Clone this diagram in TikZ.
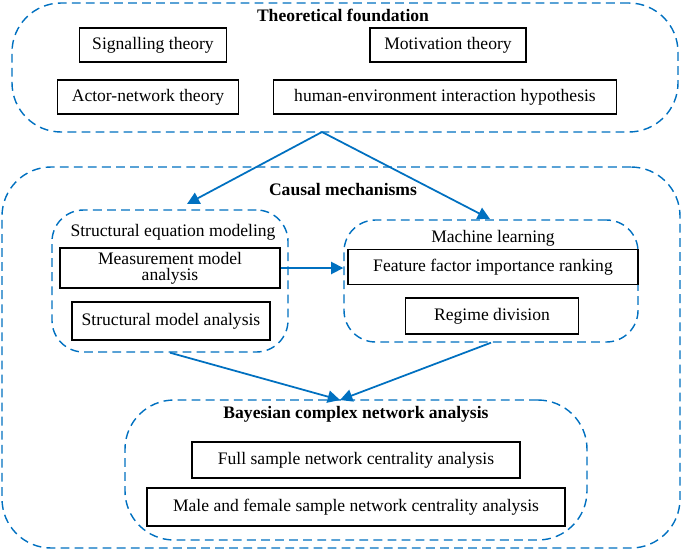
\documentclass[tikz,border=0pt]{standalone}
\usepackage{fontspec}
\setmainfont{Liberation Serif}
\usetikzlibrary{arrows.meta, positioning}
\definecolor{lineblue}{RGB}{0,112,192}
\begin{document}
\begin{tikzpicture}[x=0.02cm, y=-0.02cm,
  item/.style={draw, line width=0.8pt, align=center, inner sep=1pt},
  group/.style={draw=lineblue, dash pattern=on 5pt off 3pt, line width=0.8pt, rounded corners=28pt},
  flow/.style={-{Triangle[length=7pt,width=7pt]}, draw=lineblue, line width=1pt}]
\useasboundingbox (0,0) rectangle (685,551);

% Theoretical foundation
\node[group, minimum width=666*0.02cm, minimum height=129*0.02cm] (theory) at (345,67.5) {};
\node[font=\bfseries] at (343,15) {Theoretical foundation};
\node[item, minimum width=147*0.02cm, minimum height=34*0.02cm] (signal) at (153,45) {Signalling theory};
\node[item, minimum width=156*0.02cm, minimum height=34*0.02cm] (motiv) at (448,45) {Motivation theory};
\node[item, minimum width=181*0.02cm, minimum height=34*0.02cm] (actor) at (148,97) {Actor-network theory};
\node[item, minimum width=343*0.02cm, minimum height=34*0.02cm] (human) at (445,97) {human-environment interaction hypothesis};

% Causal mechanisms
\node[group, minimum width=678*0.02cm, minimum height=381*0.02cm] (causal) at (341,357.5) {};
\node[font=\bfseries] at (343,190) {Causal mechanisms};

% Structural equation modeling
\node[group, rounded corners=18pt, minimum width=236*0.02cm, minimum height=142*0.02cm] (sem) at (170,281) {};
\node at (173,232) {Structural equation modeling};
\node[item, minimum width=220*0.02cm, minimum height=40*0.02cm] (measure) at (170,268) {Measurement model\\[-3pt]analysis};
\node[item, minimum width=198*0.02cm, minimum height=38*0.02cm] (struct) at (171,321) {Structural model analysis};

% Machine learning
\node[group, rounded corners=18pt, minimum width=294*0.02cm, minimum height=122*0.02cm] (ml) at (491,281) {};
\node at (493,238) {Machine learning};
\node[item, minimum width=290*0.02cm, minimum height=35*0.02cm] (feature) at (493,267) {Feature factor importance ranking};
\node[item, minimum width=173*0.02cm, minimum height=36*0.02cm] (regime) at (492,316) {Regime division};

% Bayesian complex network analysis
\node[group, minimum width=462*0.02cm, minimum height=140*0.02cm] (bayes) at (356,470) {};
\node[font=\bfseries] at (356,414) {Bayesian complex network analysis};
\node[item, minimum width=328*0.02cm, minimum height=36*0.02cm] (full) at (356,460) {Full sample network centrality analysis};
\node[item, minimum width=418*0.02cm, minimum height=38*0.02cm] (gender) at (356,507) {Male and female sample network centrality analysis};

% connectors
\coordinate (theoryout) at (322,132);
\coordinate (semin) at (187,204);
\coordinate (mlin) at (490,219);
\coordinate (bayesin) at (340,400);
\draw[flow] (theoryout) -- (semin);
\draw[flow] (theoryout) -- (mlin);
\draw[flow] (measure.east) -- (ml.west |- measure.east);
\draw[flow] (sem.south) -- (bayesin);
\draw[flow] (ml.south) -- (bayesin);
\end{tikzpicture}
\end{document}
